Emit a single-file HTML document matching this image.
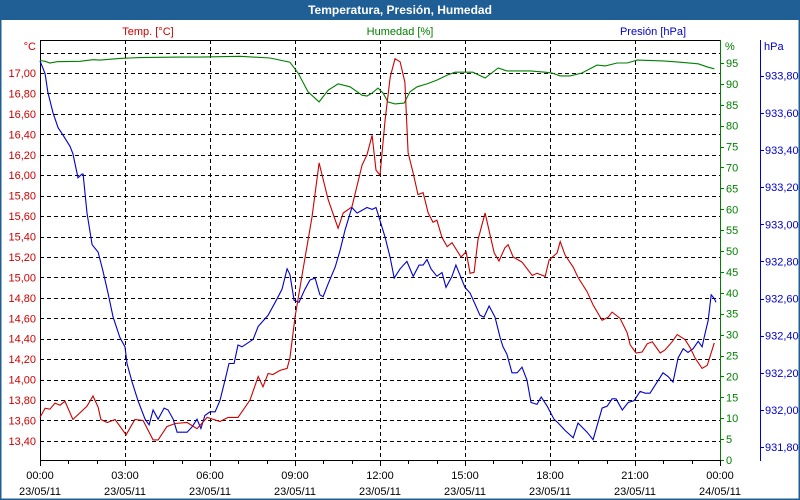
<!DOCTYPE html>
<html><head><meta charset="utf-8"><style>
body{margin:0;background:#fff;}
#wrap{position:relative;width:800px;height:500px;overflow:hidden;font-family:"Liberation Sans",sans-serif;}
svg text{font-family:"Liberation Sans",sans-serif;font-size:11px;}
</style></head><body>
<div id="wrap">
<svg id="chart" width="800" height="500" viewBox="0 0 800 500">
<rect x="0" y="0" width="800" height="500" fill="#fff"/>
<rect x="0" y="0" width="800" height="20" fill="#1f5f96"/>
<rect x="0.5" y="0.5" width="799" height="499" fill="none" stroke="#1f5f96" stroke-width="2"/>
<text x="400" y="14" text-anchor="middle" fill="#fff" style="font-weight:bold;font-size:12px">Temperatura, Presión, Humedad</text>
<text x="148" y="35" text-anchor="middle" fill="#cc0000">Temp. [°C]</text>
<text x="400" y="35" text-anchor="middle" fill="#008000">Humedad [%]</text>
<text x="653" y="35" text-anchor="middle" fill="#0000cc">Presión [hPa]</text>
<text x="36" y="50" text-anchor="end" fill="#cc0000">°C</text>
<text x="725" y="50" fill="#008000">%</text>
<text x="764" y="50" fill="#0000cc">hPa</text>
<g id="grid"></g><g id="axes"></g><g id="series"></g>
</svg>
</div>
<script>
const tempTimes=[0,.18,.35,.53,.71,.88,1.16,1.66,1.87,2.05,2.15,2.37,2.65,3.04,3.35,3.64,3.99,4.17,4.48,4.77,5.19,5.54,5.90,6.35,6.64,6.99,7.41,7.70,7.87,8.05,8.22,8.47,8.72,8.82,9.00,9.28,9.60,9.85,10.17,10.52,10.70,11.01,11.37,11.54,11.72,11.86,12.00,12.18,12.36,12.53,12.71,12.88,12.99,13.17,13.34,13.52,13.70,13.87,14.01,14.19,14.37,14.54,14.86,15.04,15.18,15.32,15.46,15.71,15.89,16.03,16.20,16.41,16.52,16.70,17.01,17.37,17.54,17.83,17.97,18.25,18.36,18.53,18.82,18.99,19.31,19.52,19.84,20.05,20.19,20.47,20.72,20.83,21.04,21.25,21.43,21.61,21.89,22.06,22.31,22.49,22.77,22.95,23.12,23.37,23.55,23.80];
const tempValues=[13.63,13.72,13.71,13.77,13.75,13.79,13.61,13.74,13.84,13.73,13.61,13.58,13.61,13.46,13.61,13.60,13.41,13.41,13.54,13.57,13.58,13.52,13.63,13.59,13.63,13.63,13.80,14.03,13.93,14.06,14.05,14.09,14.11,14.21,14.61,15.07,15.59,16.12,15.76,15.48,15.63,15.69,16.10,16.20,16.39,16.05,16.00,16.54,16.96,17.14,17.11,16.91,16.22,16.02,15.81,15.83,15.63,15.54,15.56,15.39,15.30,15.34,15.20,15.25,15.04,15.05,15.37,15.63,15.41,15.24,15.16,15.29,15.32,15.20,15.15,15.02,15.04,15.01,15.17,15.24,15.35,15.22,15.10,15.00,14.86,14.73,14.58,14.61,14.66,14.60,14.46,14.34,14.26,14.27,14.35,14.37,14.26,14.29,14.37,14.44,14.39,14.31,14.21,14.11,14.14,14.36];
const presTimes=[0,.18,.28,.46,.64,.81,1.06,1.16,1.34,1.48,1.52,1.66,1.84,2.05,2.22,2.40,2.58,2.82,3.00,3.07,3.25,3.46,3.71,3.85,3.99,4.17,4.38,4.52,4.70,4.84,5.19,5.37,5.54,5.68,5.82,6.00,6.18,6.35,6.53,6.67,6.85,6.99,7.13,7.52,7.70,8.05,8.30,8.54,8.72,8.82,8.97,9.14,9.35,9.53,9.71,9.88,9.99,10.17,10.42,10.59,10.77,11.01,11.19,11.54,11.72,11.86,12.00,12.18,12.36,12.50,12.71,12.95,13.17,13.38,13.52,13.66,13.80,14.01,14.19,14.33,14.54,14.68,15.00,15.18,15.53,15.67,15.85,16.06,16.24,16.34,16.48,16.66,16.84,17.01,17.19,17.33,17.54,17.69,17.90,18.14,18.29,18.53,18.82,18.99,19.31,19.52,19.84,20.02,20.19,20.33,20.55,20.76,20.97,21.18,21.36,21.53,21.78,21.99,22.17,22.34,22.52,22.70,22.87,23.05,23.23,23.37,23.47,23.58,23.69,23.80,23.86];
const presValues=[933.88,933.81,933.71,933.60,933.52,933.48,933.42,933.38,933.25,933.27,933.27,933.06,932.89,932.85,932.75,932.63,932.50,932.39,932.34,932.25,932.15,932.05,931.95,931.92,932.00,931.95,932.01,932.00,931.95,931.88,931.88,931.91,931.95,931.90,931.97,931.99,931.99,932.05,932.16,932.25,932.25,932.35,932.34,932.38,932.45,932.51,932.58,932.65,932.76,932.73,932.59,932.58,932.65,932.70,932.71,932.62,932.61,932.68,932.77,932.86,932.97,933.09,933.06,933.09,933.08,933.09,933.02,932.93,932.82,932.71,932.76,932.80,932.72,932.78,932.78,932.81,932.76,932.72,932.74,932.66,932.72,932.78,932.66,932.63,932.51,932.50,932.56,932.50,932.39,932.34,932.30,932.20,932.20,932.23,932.16,932.04,932.03,932.07,932.02,931.95,931.93,931.89,931.85,931.93,931.88,931.84,932.01,932.02,932.06,932.06,932.00,932.04,932.05,932.10,932.09,932.09,932.15,932.20,932.18,932.15,932.28,932.33,932.31,932.33,932.37,932.34,932.41,932.48,932.62,932.60,932.58];
const humTimes=[0,.18,.35,.60,1.41,1.87,2.12,2.82,3.53,4.95,5.65,7.06,8.12,8.82,9.11,9.46,9.85,10.17,10.52,10.94,11.37,11.54,11.72,11.93,12.11,12.28,12.53,12.85,13.06,13.31,13.66,14.01,14.37,14.65,14.93,15.28,15.71,16.17,16.48,16.84,17.30,17.83,18.07,18.36,18.71,19.13,19.66,19.95,20.37,20.72,21.07,21.99,22.59,23.23,23.58,23.80];
const humValues=[95.6,95.4,95.0,95.3,95.4,95.8,95.7,96.1,96.3,96.4,96.4,96.6,96.2,95.2,92.6,88.1,85.7,88.5,90.0,89.3,87.3,87.1,87.8,89.0,87.8,85.7,85.2,85.4,88.1,89.3,90.0,90.9,92.1,92.8,92.8,92.8,91.4,93.8,93.1,93.1,93.1,92.8,92.6,91.9,91.9,92.6,94.5,94.3,95.0,95.0,95.7,95.5,95.2,94.8,94.0,93.6];
const tempTicks=["13,40","13,60","13,80","14,00","14,20","14,40","14,60","14,80","15,00","15,20","15,40","15,60","15,80","16,00","16,20","16,40","16,60","16,80","17,00"];
const humTicks=[0,5,10,15,20,25,30,35,40,45,50,55,60,65,70,75,80,85,90,95];
const presTicks=["931,80","932,00","932,20","932,40","932,60","932,80","933,00","933,20","933,40","933,60","933,80"];
const timeTicks=["00:00","03:00","06:00","09:00","12:00","15:00","18:00","21:00","00:00"];
const dateTicks=["23/05/11","23/05/11","23/05/11","23/05/11","23/05/11","23/05/11","23/05/11","23/05/11","24/05/11"];

const L=40,R=720,T=40,B=460;
const xS=h=>L+h*(R-L)/24;
const yT=v=>73+(17-v)*102.2;
const yH=v=>460-v*4.179;
const yP=v=>75.7+(933.8-v)*185.7;
const NS="http://www.w3.org/2000/svg";
function mk(tag,attrs,parent){const e=document.createElementNS(NS,tag);for(const k in attrs)e.setAttribute(k,attrs[k]);parent.appendChild(e);return e;}
const grid=document.getElementById('grid'),axes=document.getElementById('axes'),ser=document.getElementById('series');

// horizontal grid at temp ticks + 17.20
const gv=tempTicks.map(s=>parseFloat(s.replace(',','.'))).concat([17.2]);
gv.forEach(v=>{const y=Math.round(yT(v))+0.5;
 const g=mk('line',{x1:L,x2:R,y1:y,y2:y,stroke:'#000','stroke-dasharray':'4,3','stroke-width':1},grid);
 
 });
for(let i=1;i<8;i++){const x=Math.round(xS(i*3))+0.5;
 const g=mk('line',{x1:x,x2:x,y1:T,y2:B,stroke:'#000','stroke-dasharray':'4,3','stroke-width':1},grid);
 
 }

// axes lines
let a=mk('line',{x1:L,x2:R,y1:T+0.5,y2:T+0.5,stroke:'#000'},axes);


a=mk('line',{x1:L+0.5,x2:L+0.5,y1:T,y2:B,stroke:'#000'},axes);


a=mk('line',{x1:L,x2:R,y1:B+0.5,y2:B+0.5,stroke:'#000'},axes);


a=mk('line',{x1:R+0.5,x2:R+0.5,y1:T,y2:B+1,stroke:'#008000'},axes);


a=mk('line',{x1:760.5,x2:760.5,y1:T,y2:B+1,stroke:'#0000cc'},axes);



tempTicks.forEach(s=>{const v=parseFloat(s.replace(',','.'));
 const t=mk('text',{x:36,y:yT(v)+4,'text-anchor':'end',fill:'#cc0000'},axes);t.textContent=s;
 
 });
humTicks.forEach(v=>{const y=Math.round(yH(v))+0.5;
 const tk=mk('line',{x1:R,x2:R+4,y1:y,y2:y,stroke:'#008000'},axes);
 
 
 const t=mk('text',{x:R+6,y:yH(v)+4,fill:'#008000'},axes);t.textContent=v;
 
 });
presTicks.forEach(s=>{const v=parseFloat(s.replace(',','.'));const y=Math.round(yP(v))+0.5;
 const tk=mk('line',{x1:760,x2:764,y1:y,y2:y,stroke:'#0000cc'},axes);
 
 
 const t=mk('text',{x:765,y:yP(v)+4,fill:'#0000cc'},axes);t.textContent=s;
 
 });
for(let h=0;h<=24;h++){const x=Math.round(xS(h))+0.5;
 const tk=mk('line',{x1:x,x2:x,y1:B,y2:B+(h%3?4:6),stroke:'#000'},axes);
 
 }
timeTicks.forEach((s,i)=>{const x=xS(i*3);
 const t=mk('text',{x:x,y:479,'text-anchor':'middle',fill:'#000'},axes);t.textContent=s;
 
 
 const d=mk('text',{x:x,y:495,'text-anchor':'middle',fill:'#000'},axes);d.textContent=dateTicks[i];
 
 });

function line(ts,vs,yf,color,name){
 const pts=ts.map((t,i)=>xS(t).toFixed(1)+','+yf(vs[i]).toFixed(1)).join(' ');
 const p=mk('polyline',{points:pts,fill:'none',stroke:color,'stroke-width':1.1},ser);
 
 }
line(humTimes,humValues,yH,'#008000','humidity-line');
line(presTimes,presValues,yP,'#0000cc','pressure-line');
line(tempTimes,tempValues,yT,'#cc0000','temperature-line');
</script>
</body></html>
